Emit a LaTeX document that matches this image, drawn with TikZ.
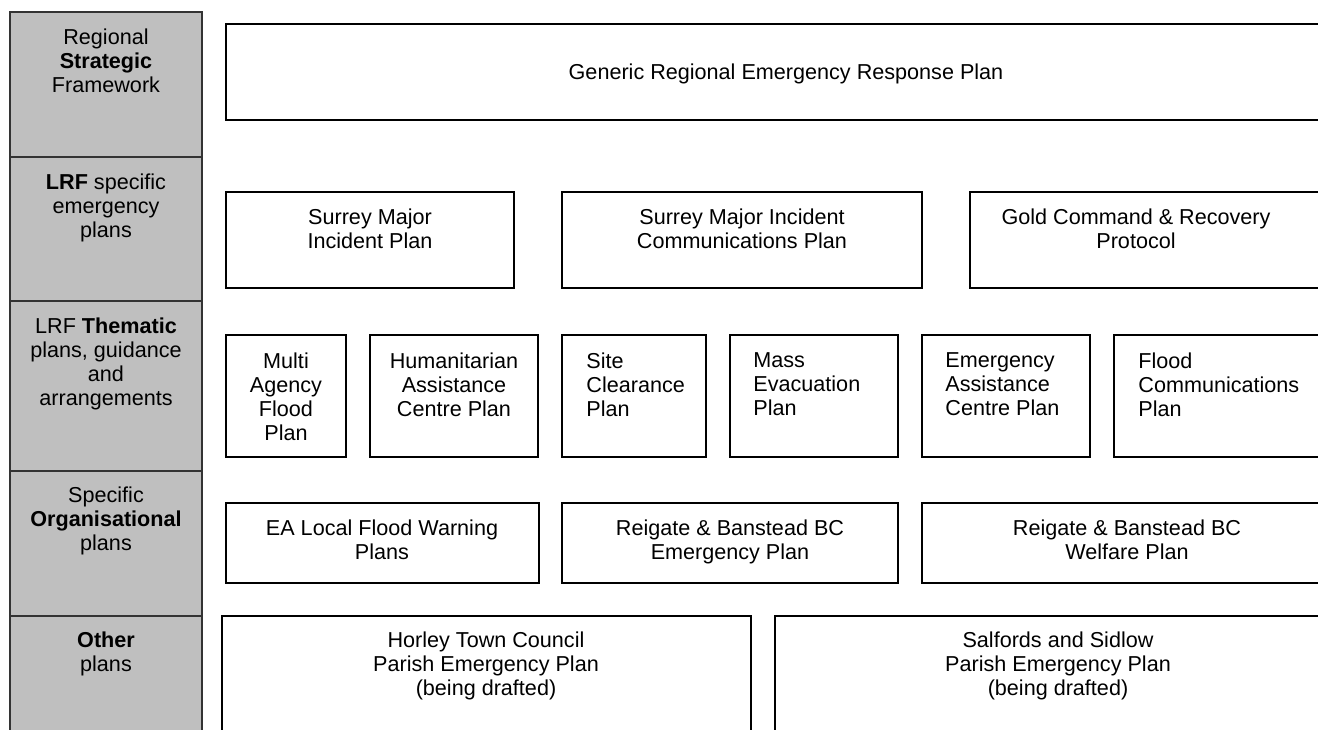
\documentclass[tikz,border=0pt]{standalone}
\usepackage{fontspec}
\setmainfont{Liberation Sans}
\begin{document}
\begin{tikzpicture}[x=0.5pt,y=-0.5pt,
  every node/.style={font=\fontsize{10.8}{12}\selectfont},
  cell/.style={draw=black!80, line width=0.75pt, fill=black!25, inner sep=0pt, outer sep=0pt},
  planbox/.style={draw=black, line width=0.8pt, inner sep=0pt, outer sep=0pt},
  thickbox/.style={draw=black, line width=1.25pt, inner sep=0pt, outer sep=0pt},
  ctext/.style={align=center, anchor=north, inner sep=0pt},
  ltext/.style={align=left, anchor=north west, inner sep=0pt}]
\useasboundingbox (0,0) rectangle (1318,729);
\clip (0,0) rectangle (1318,729);
\newcommand\areabox[6]{\node[#6, minimum width={(#4-#2)*0.5pt}, minimum height={(#5-#3)*0.5pt}] (#1) at ({(#2+#4)/2},{(#3+#5)/2}) {};}
% left column
\areabox{c1}{10}{12}{202}{157}{cell}
\areabox{c2}{10}{157}{202}{301}{cell}
\areabox{c3}{10}{301}{202}{471}{cell}
\areabox{c4}{10}{471}{202}{616}{cell}
\areabox{c5}{10}{616}{202}{780}{cell}
\node[ctext] (c1t) at (106,28) {Regional\\\textbf{Strategic}\\Framework};
\node[ctext] (c2t) at (106,173) {\textbf{LRF} specific\\emergency\\plans};
\node[ctext] (c3t) at (106,317) {LRF \textbf{Thematic}\\plans, guidance\\and\\arrangements};
\node[ctext] (c4t) at (106,486) {Specific\\\textbf{Organisational}\\plans};
\node[ctext] (c5t) at (106,631) {\textbf{Other}\\plans};
% row 1
\areabox{gen}{226}{24}{1345}{120}{planbox}
\node[ctext] (gent) at (786,63) {Generic Regional Emergency Response Plan};
% row 2
\areabox{smip}{226}{192}{514}{288}{planbox}
\areabox{smic}{562}{192}{922}{288}{planbox}
\areabox{gold}{970}{192}{1345}{288}{planbox}
\node[ctext] (smipt) at (370,208) {Surrey Major\\Incident Plan};
\node[ctext] (smict) at (742,208) {Surrey Major Incident\\Communications Plan};
\node[ctext] (goldt) at (1136,208) {Gold Command \& Recovery\\Protocol};
% row 3
\areabox{maf}{226}{335}{346}{457}{thickbox}
\areabox{hac}{370}{335}{538}{457}{thickbox}
\areabox{sc}{562}{335}{706}{457}{thickbox}
\areabox{me}{730}{335}{898}{457}{thickbox}
\areabox{eac}{922}{335}{1090}{457}{thickbox}
\areabox{fc}{1114}{335}{1345}{457}{thickbox}
\node[ctext] (maft) at (286,352) {Multi\\Agency\\Flood\\Plan};
\node[ctext] (hact) at (454,352) {Humanitarian\\Assistance\\Centre Plan};
\node[ltext] (sct) at (586,352) {Site\\Clearance\\Plan};
\node[ltext] (met) at (753,352) {Mass\\Evacuation\\Plan};
\node[ltext] (eact) at (945,352) {Emergency\\Assistance\\Centre Plan};
\node[ltext] (fct) at (1138,352) {Flood\\Communications\\Plan};
% row 4
\areabox{ea}{226}{503}{539}{583}{planbox}
\areabox{rbe}{562}{503}{898}{583}{planbox}
\areabox{rbw}{922}{503}{1345}{583}{planbox}
\node[ctext] (eat) at (382,519) {EA Local Flood Warning\\Plans};
\node[ctext] (rbet) at (730,519) {Reigate \& Banstead BC\\Emergency Plan};
\node[ctext] (rbwt) at (1127,519) {Reigate \& Banstead BC\\Welfare Plan};
% row 5
\areabox{htc}{222}{616}{751}{780}{planbox}
\areabox{ss}{775}{616}{1345}{780}{planbox}
\node[ctext] (htct) at (486,631) {Horley Town Council\\Parish Emergency Plan\\(being drafted)};
\node[ctext] (sst) at (1058,631) {Salfords and Sidlow\\Parish Emergency Plan\\(being drafted)};
\end{tikzpicture}
\end{document}
